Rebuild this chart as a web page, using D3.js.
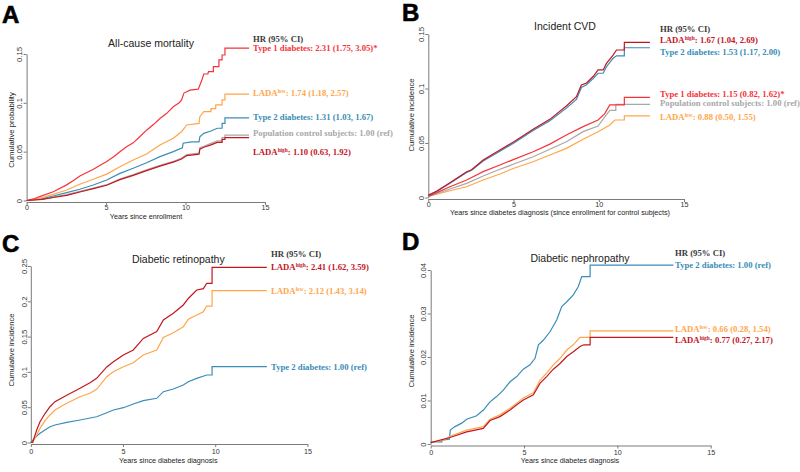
<!DOCTYPE html>
<html><head><meta charset="utf-8">
<script src="https://cdn.jsdelivr.net/npm/d3@7"></script>
<style>body{margin:0;background:#fff}svg{display:block}</style>
</head><body><div id="c"></div>
<script>
// ---------- DATA (years, cumulative value) ----------
const xTicks = [0, 5, 10, 15];
const xTickLabels = ["0", "5", "10", "15"];
const yTicksA = [0, 0.05, 0.1, 0.15], yTickLabelsA = ["0", "0.05", "0.1", "0.15"];
const yTicksB = [0, 0.05, 0.1, 0.15], yTickLabelsB = ["0", "0.05", "0.1", "0.15"];
const yTicksC = [0, 0.05, 0.1, 0.15, 0.2, 0.25], yTickLabelsC = ["0", "0.05", "0.1", "0.15", "0.2", "0.25"];
const yTicksD = [0, 0.01, 0.02, 0.03, 0.04], yTickLabelsD = ["0", "0.01", "0.02", "0.03", "0.04"];

// Panel A: All-cause mortality
const A_pop = [[0,0],[1.0,0.0015],[1.68,0.0035],[2.52,0.006],[3.35,0.0093],[4.2,0.0128],[5.04,0.0162],[5.87,0.022],[6.71,0.0265],[7.55,0.0315],[8.39,0.036],[9.23,0.040],[9.75,0.0435],[10.08,0.047],[10.85,0.0485],[10.9,0.054],[11.15,0.0555],[11.6,0.0585],[12.0,0.061],[12.3,0.061],[12.3,0.0645],[12.48,0.0645],[12.48,0.067],[14,0.067]];
const A_t2 = [[0,0],[1.0,0.002],[1.68,0.0046],[2.52,0.008],[3.35,0.0115],[4.2,0.0159],[5.04,0.021],[5.87,0.0278],[6.71,0.033],[7.55,0.0387],[8.39,0.0449],[9.23,0.050],[9.8,0.054],[9.85,0.0586],[10.37,0.060],[10.85,0.060],[10.9,0.0653],[11.15,0.0688],[11.6,0.0712],[12.0,0.074],[12.3,0.074],[12.3,0.079],[12.48,0.079],[12.48,0.0845],[14,0.0845]];
const A_ladaLow = [[0,0],[1.0,0.003],[1.68,0.0063],[2.52,0.0107],[3.35,0.0166],[4.2,0.0217],[5.04,0.027],[5.87,0.0346],[6.71,0.0415],[7.55,0.0476],[8.39,0.0568],[9.23,0.0637],[9.75,0.0704],[10.08,0.0773],[10.85,0.079],[10.9,0.0858],[11.15,0.091],[11.6,0.091],[11.6,0.094],[11.9,0.094],[11.9,0.098],[12.3,0.098],[12.3,0.103],[12.48,0.103],[12.48,0.109],[14,0.109]];
const A_t1 = [[0,0],[0.5,0.002],[1.0,0.005],[1.68,0.009],[2.52,0.016],[3.0,0.021],[3.35,0.025],[4.2,0.032],[5.04,0.040],[5.5,0.045],[5.87,0.050],[6.29,0.055],[6.71,0.059],[7.1,0.065],[7.55,0.072],[8.0,0.078],[8.39,0.084],[8.8,0.089],[9.23,0.096],[9.6,0.100],[9.75,0.103],[9.9,0.110],[10.28,0.113],[10.8,0.114],[10.9,0.118],[11.0,0.122],[11.15,0.1295],[11.4,0.1295],[11.45,0.132],[11.75,0.132],[11.75,0.137],[12.1,0.137],[12.1,0.144],[12.3,0.144],[12.3,0.149],[12.48,0.149],[12.48,0.156],[14,0.156]];
const A_ladaHigh = [[0,0],[1.0,0.0012],[1.68,0.0031],[2.52,0.0053],[3.35,0.0087],[4.2,0.0122],[5.04,0.0156],[5.87,0.0214],[6.71,0.0257],[7.55,0.0306],[8.39,0.0352],[9.23,0.0393],[9.75,0.0425],[10.08,0.046],[10.85,0.0475],[10.9,0.0525],[11.15,0.0545],[11.6,0.057],[12.0,0.0595],[12.3,0.0595],[12.3,0.0625],[12.48,0.0625],[12.48,0.0643],[14,0.0643]];

// Panel B: Incident CVD
const B_ladaLow = [[0,0.001],[1.27,0.0062],[2.25,0.0099],[3.22,0.016],[4.2,0.0216],[5.02,0.0268],[6.15,0.0328],[7.13,0.039],[8.1,0.0451],[9.08,0.0534],[9.96,0.0604],[10.65,0.0665],[10.95,0.0711],[11.5,0.0711],[11.5,0.0748],[13,0.0748]];
const B_pop = [[0,0.001],[1.27,0.0078],[2.25,0.013],[3.22,0.0197],[4.2,0.0259],[5.02,0.0307],[6.15,0.0374],[7.13,0.0442],[8.1,0.0512],[9.08,0.0604],[9.96,0.0656],[10.35,0.074],[10.65,0.080],[11.0,0.080],[11.0,0.0855],[13,0.0855]];
const B_t1 = [[0,0.001],[1.27,0.0099],[2.25,0.016],[3.22,0.0237],[4.2,0.0298],[5.02,0.035],[6.15,0.042],[7.13,0.049],[8.1,0.0573],[9.08,0.065],[9.96,0.0711],[10.35,0.077],[10.65,0.085],[11.5,0.085],[11.5,0.0919],[13,0.0919]];
const B_t2 = [[0,0.002],[0.5,0.0055],[1.27,0.013],[2.25,0.023],[2.54,0.025],[3.22,0.0335],[4.2,0.0425],[5.02,0.050],[6.15,0.0615],[7.13,0.0705],[8.1,0.082],[8.69,0.090],[8.98,0.101],[9.28,0.1035],[9.67,0.109],[9.96,0.114],[10.26,0.114],[10.45,0.120],[10.84,0.1277],[11.04,0.130],[11.5,0.130],[11.5,0.1374],[13,0.1374]];
const B_ladaHigh = [[0,0.002],[0.5,0.006],[1.27,0.0136],[2.25,0.0237],[2.54,0.0255],[3.22,0.0344],[4.2,0.0436],[5.02,0.0512],[6.15,0.0626],[7.13,0.0717],[8.1,0.084],[8.69,0.0925],[8.98,0.1032],[9.28,0.105],[9.67,0.111],[9.96,0.117],[10.26,0.117],[10.45,0.123],[10.84,0.1307],[11.04,0.1353],[11.5,0.1353],[11.5,0.1424],[13,0.1424]];

// Panel C: Diabetic retinopathy
const C_t2 = [[0,0],[0.1,0.003],[0.32,0.0092],[0.5,0.013],[0.77,0.0177],[1.04,0.0224],[1.31,0.0248],[1.95,0.0286],[2.67,0.0319],[3.57,0.0365],[4.12,0.0422],[4.48,0.046],[5.02,0.0493],[5.56,0.0545],[6.1,0.0592],[6.83,0.0626],[7.19,0.072],[7.73,0.0758],[8.27,0.0815],[8.54,0.0861],[9.0,0.0909],[9.54,0.0956],[9.83,0.0956],[9.83,0.1074],[12.8,0.1074]];
const C_ladaLow = [[0,0],[0.1,0.0],[0.32,0.0106],[0.5,0.020],[0.77,0.0309],[1.04,0.039],[1.31,0.046],[1.95,0.0555],[2.67,0.0649],[3.21,0.0697],[3.57,0.0754],[4.12,0.0932],[4.48,0.1003],[5.02,0.1074],[5.56,0.113],[6.1,0.124],[6.83,0.131],[7.19,0.1487],[7.73,0.1555],[8.27,0.164],[8.54,0.1745],[9.0,0.1806],[9.36,0.1853],[9.54,0.1933],[9.83,0.1933],[9.83,0.215],[12.8,0.215]];
const C_ladaHigh = [[0,0],[0.1,0.0],[0.32,0.0177],[0.5,0.0295],[0.77,0.041],[1.04,0.0507],[1.31,0.0578],[1.95,0.067],[2.67,0.0768],[3.21,0.0847],[3.57,0.0909],[4.12,0.107],[4.48,0.1145],[5.02,0.124],[5.56,0.131],[6.1,0.1475],[6.83,0.157],[7.19,0.1735],[7.73,0.183],[8.27,0.1948],[8.54,0.204],[9.0,0.216],[9.36,0.218],[9.54,0.2255],[9.83,0.2255],[9.83,0.248],[12.8,0.248]];

// Panel D: Diabetic nephropathy
const D_t2 = [[0,0.0005],[0.6,0.0005],[0.6,0.0009],[1.0,0.0011],[1.05,0.0032],[1.3,0.004],[1.66,0.0048],[1.93,0.0057],[2.46,0.0065],[2.82,0.0078],[3.18,0.0097],[3.53,0.0109],[3.89,0.0124],[4.25,0.0143],[4.61,0.0155],[4.96,0.0172],[5.32,0.0182],[5.59,0.0197],[5.77,0.0228],[6.04,0.0239],[6.39,0.0258],[6.75,0.0285],[7.02,0.0316],[7.29,0.0327],[7.64,0.0343],[7.91,0.0362],[8.09,0.0385],[8.54,0.0385],[8.54,0.0411],[13,0.0411]];
const D_ladaLow = [[0,0.0004],[0.68,0.0008],[1.03,0.0018],[1.93,0.0032],[2.82,0.004],[3.18,0.0057],[3.71,0.0067],[4.25,0.0082],[4.61,0.0094],[4.96,0.0106],[5.5,0.0118],[5.86,0.0147],[6.21,0.0163],[6.57,0.0182],[6.93,0.0197],[7.29,0.0216],[7.64,0.0228],[8.0,0.0245],[8.54,0.0245],[8.54,0.026],[13,0.026]];
const D_ladaHigh = [[0,0.0003],[1.03,0.0015],[1.93,0.0028],[2.82,0.0036],[3.18,0.0054],[3.71,0.0063],[4.25,0.0078],[4.61,0.009],[4.96,0.0101],[5.5,0.0113],[5.86,0.014],[6.21,0.0155],[6.57,0.0172],[6.93,0.0185],[7.29,0.0201],[7.64,0.0212],[8.0,0.0224],[8.2,0.0228],[8.54,0.0228],[8.54,0.0245],[13,0.0245]];

// Legend texts: [group key, name, superscript, HR text]
const legendA = [["t1","Type 1 diabetes","",": 2.31 (1.75, 3.05)*"],["ladaLow","LADA","low",": 1.74 (1.18, 2.57)"],["t2","Type 2 diabetes","",": 1.31 (1.03, 1.67)"],["pop","Population control subjects","",": 1.00 (ref)"],["ladaHigh","LADA","high",": 1.10 (0.63, 1.92)"]];
const legendB = [["ladaHigh","LADA","high",": 1.67 (1.04, 2.69)"],["t2","Type 2 diabetes","",": 1.53 (1.17, 2.00)"],["t1","Type 1 diabetes","",": 1.15 (0.82, 1.62)*"],["pop","Population control subjects","",": 1.00 (ref)"],["ladaLow","LADA","low",": 0.88 (0.50, 1.55)"]];
const legendC = [["ladaHigh","LADA","high",": 2.41 (1.62, 3.59)"],["ladaLow","LADA","low",": 2.12 (1.43, 3.14)"],["t2","Type 2 diabetes","",": 1.00 (ref)"]];
const legendD = [["t2","Type 2 diabetes","",": 1.00 (ref)"],["ladaLow","LADA","low",": 0.66 (0.28, 1.54)"],["ladaHigh","LADA","high",": 0.77 (0.27, 2.17)"]];

// ---------- STYLE / LAYOUT ----------
const colors = {t1:"#f5333a", ladaLow:"#ffa64a", t2:"#3a8db6", pop:"#a8a8a8", ladaHigh:"#c4161f"};
const panels = [
  {letter:"A", lx:2, ly:23, title:"All-cause mortality", tx:151, ty:43,
   xr:[26.6,265], y0:200.5, ymax:0.15, ymaxPx:54, yt:yTicksA, ytl:yTickLabelsA,
   xtitle:"Years since enrollment", xtx:146, xty:216, ytitle:"Cumulative probability", ytx:11.7, yty:130,
   xlab:207.8, series:[["pop",A_pop],["t2",A_t2],["ladaLow",A_ladaLow],["t1",A_t1],["ladaHigh",A_ladaHigh]],
   legend:legendA, legX:253, hdrY:39, legY:[48.3,92.7,116.7,132.7,152.3]},
  {letter:"B", lx:402, ly:21, title:"Incident CVD", tx:565, ty:26.7,
   xr:[428.3,684], y0:197.5, ymax:0.15, ymaxPx:34, yt:yTicksB, ytl:yTickLabelsB,
   xtitle:"Years since diabetes diagnosis (since enrollment for control subjects)", xtx:560, xty:212.8, ytitle:"Cumulative incidence", ytx:411.7, yty:115,
   xlab:204.3, series:[["ladaLow",B_ladaLow],["pop",B_pop],["t1",B_t1],["t2",B_t2],["ladaHigh",B_ladaHigh]],
   legend:legendB, legX:660, hdrY:29, legY:[40,51.7,94.3,103.3,116.7]},
  {letter:"C", lx:2, ly:252, title:"Diabetic retinopathy", tx:178.3, ty:259.3,
   xr:[30.8,307.4], y0:442.5, ymax:0.25, ymaxPx:266, yt:yTicksC, ytl:yTickLabelsC,
   xtitle:"Years since diabetes diagnosis", xtx:168.3, xty:460.3, ytitle:"Cumulative incidence", ytx:11.7, yty:350,
   xlab:451.2, series:[["t2",C_t2],["ladaLow",C_ladaLow],["ladaHigh",C_ladaHigh]],
   legend:legendC, legX:271, hdrY:254.3, legY:[266.7,290.7,366.7]},
  {letter:"D", lx:402, ly:250, title:"Diabetic nephropathy", tx:580, ty:258.3,
   xr:[430.7,710.7], y0:444, ymax:0.04, ymaxPx:270, yt:yTicksD, ytl:yTickLabelsD,
   xtitle:"Years since diabetes diagnosis", xtx:570, xty:460.8, ytitle:"Cumulative incidence", ytx:411.7, yty:351,
   xlab:452, series:[["t2",D_t2],["ladaLow",D_ladaLow],["ladaHigh",D_ladaHigh]],
   legend:legendD, legX:675, hdrY:253.3, legY:[265,328.7,340]}
];

const sans = "'Liberation Sans', Arial, sans-serif";
const serif = "'Liberation Serif', 'Times New Roman', serif";
const svg = d3.select("#c").append("svg").attr("width",800).attr("height",472)
  .style("background","#fff");

panels.forEach(p => {
  const g = svg.append("g");
  const x = d3.scaleLinear().domain([0,15]).range(p.xr);
  const y = d3.scaleLinear().domain([0,p.ymax]).range([p.y0,p.ymaxPx]);

  // panel letter
  g.append("text").attr("x",p.lx).attr("y",p.ly).text(p.letter)
    .attr("font-family",sans).attr("font-weight","bold").attr("font-size",24)
    .attr("fill","#000").attr("stroke","#000").attr("stroke-width",0.6);

  // title
  g.append("text").attr("x",p.tx).attr("y",p.ty+3.7).attr("text-anchor","middle")
    .attr("font-family",sans).attr("font-size",10.5).attr("fill","#222").text(p.title);

  // x axis
  const xa = g.append("g").attr("transform",`translate(0,${p.y0+1.5})`)
    .call(d3.axisBottom(x).tickValues(xTicks).tickFormat((d,i)=>xTickLabels[i]).tickSize(3).tickSizeOuter(0));
  xa.select(".domain").attr("stroke","#7a7a7a");
  xa.selectAll(".tick line").attr("stroke","#7a7a7a");
  xa.selectAll(".tick text").attr("y",null).attr("dy",null)
    .attr("transform",`translate(0,${p.xlab - p.y0 - 1.5 + 2.5})`)
    .attr("font-family",sans).attr("font-size",7.2).attr("fill","#333");

  // y axis
  const ya = g.append("g").attr("transform",`translate(${p.xr[0]},0)`)
    .call(d3.axisLeft(y).tickValues(p.yt).tickFormat((d,i)=>p.ytl[i]).tickSize(3).tickSizeOuter(0));
  ya.select(".domain").attr("stroke","#7a7a7a");
  ya.selectAll(".tick line").attr("stroke","#7a7a7a");
  ya.selectAll(".tick text").attr("x",null).attr("dy","0.35em")
    .attr("transform","translate(-7,0) rotate(-90)").attr("text-anchor","middle")
    .attr("font-family",sans).attr("font-size",7.7).attr("fill","#333");

  // axis titles
  g.append("text").attr("x",p.xtx).attr("y",p.xty+2.5).attr("text-anchor","middle")
    .attr("font-family",sans).attr("font-size",7.2).attr("fill","#222").text(p.xtitle);
  g.append("text").attr("transform",`translate(${p.ytx+2.7},${p.yty}) rotate(-90)`)
    .attr("text-anchor","middle").attr("font-family",sans).attr("font-size",7.7)
    .attr("fill","#222").text(p.ytitle);

  // curves
  const line = d3.line().x(d=>x(d[0])).y(d=>y(d[1]));
  p.series.forEach(([k,data]) => {
    g.append("path").datum(data).attr("d",line).attr("fill","none")
      .attr("stroke",colors[k]).attr("stroke-width",1.2).attr("stroke-linejoin","miter");
  });

  // legend
  g.append("text").attr("x",p.legX).attr("y",p.hdrY+3).attr("font-family",serif)
    .attr("font-weight","bold").attr("font-size",8.7).attr("fill","#3a3a3a").text("HR (95% CI)");
  p.legend.forEach((L,i) => {
    const t = g.append("text").attr("x",p.legX).attr("y",p.legY[i]+3).attr("font-family",serif)
      .attr("font-weight","bold").attr("font-size",8.7).attr("fill",colors[L[0]]);
    t.append("tspan").text(L[1]);
    if (L[2]) {
      t.append("tspan").attr("font-size",5.4).attr("dy",-3).text(L[2]);
      t.append("tspan").attr("dy",3).text(L[3]);
    } else {
      t.append("tspan").text(L[3]);
    }
  });
});
</script></body></html>
